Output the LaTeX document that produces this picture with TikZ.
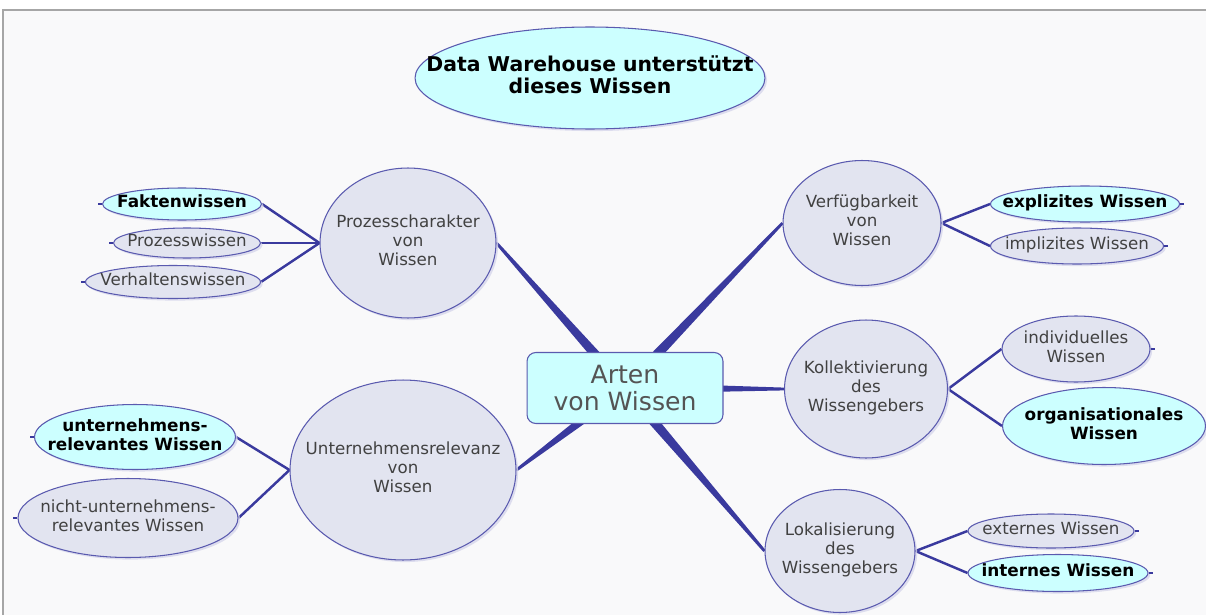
\documentclass[tikz,border=0pt]{standalone}
\usepackage{fontspec}
\setmainfont{DejaVu Sans}
\usepackage{xcolor}
\usepackage{tikz}
\usetikzlibrary{shapes.geometric,calc,backgrounds,shadows}
\definecolor{edgeblue}{RGB}{58,58,158}
\definecolor{rimblue}{RGB}{90,90,175}
\definecolor{topic}{RGB}{226,228,240}
\definecolor{hilite}{RGB}{204,255,255}
\definecolor{txtgray}{RGB}{65,65,65}
\definecolor{paper}{RGB}{249,249,250}

% zero-width centred text, so the ellipse keeps its own size
\newcommand{\zw}[1]{\makebox[0pt]{\begin{tabular}{@{}c@{}}#1\end{tabular}}}
% tapered branch from the centre
\newcommand{\taper}[2]{\fill[edgeblue] ($(#1)!3.2pt!90:(#2)$) -- ($(#2)!0.8pt!-90:(#1)$) -- ($(#2)!0.8pt!90:(#1)$) -- ($(#1)!3.2pt!-90:(#2)$) -- cycle;}

\begin{document}
\begin{tikzpicture}[
    x=0.02cm, y=-0.02cm,
    base/.style={ellipse, draw=rimblue, line width=0.6pt, inner sep=0pt,
        drop shadow={shadow xshift=1.2pt, shadow yshift=-1.2pt, fill=rimblue!25, opacity=0.8}},
    topicnode/.style={base, fill=topic, text=txtgray, font=\fontsize{9.5}{10.8}\selectfont},
    leaf/.style={base, fill=topic, text=txtgray, font=\fontsize{9.5}{11}\selectfont},
    keyleaf/.style={base, fill=hilite, text=black, font=\fontsize{9.6}{11.2}\selectfont\bfseries},
    corebox/.style={rectangle, draw=rimblue, line width=0.6pt, fill=hilite, rounded corners=5pt,
        minimum width=3.92cm, minimum height=1.42cm, inner sep=0pt, align=center,
        text=txtgray!90, font=\fontsize{14.3}{15.2}\selectfont},
    twig/.style={draw=edgeblue, line width=1.4pt},
    stub/.style={draw=edgeblue, line width=0.8pt}
]
    \useasboundingbox (0,0) rectangle (1206,615);

    % Centre
    \node[corebox] (core) at (625,388) {Arten\\von Wissen};

    % Title
    \node[base, fill=hilite, minimum width=7.0cm, minimum height=2.04cm,
        font=\fontsize{11.6}{12.8}\selectfont\bfseries] (title) at (590,78)
        {\zw{Data Warehouse unterstützt\\dieses Wissen}};

    % Topics
    \node[topicnode, minimum width=3.52cm, minimum height=3.0cm] (prozess) at (408,243) {\zw{Prozesscharakter\\von\\Wissen}};
    \node[topicnode, minimum width=4.52cm, minimum height=3.6cm] (relevanz) at (403,470) {\zw{Unternehmensrelevanz\\von\\Wissen}};
    \node[topicnode, minimum width=3.16cm, minimum height=2.5cm] (verfueg) at (862,223) {\zw{Verfügbarkeit\\von\\Wissen}};
    \node[topicnode, minimum width=3.26cm, minimum height=2.76cm] (kollekt) at (866,389) {\zw{Kollektivierung\\des\\Wissengebers}};
    \node[topicnode, minimum width=3.0cm, minimum height=2.46cm] (lokal) at (840,551) {\zw{Lokalisierung\\des\\Wissengebers}};

    % Leaves, left
    \node[keyleaf, minimum width=3.18cm, minimum height=0.64cm] (fakten) at (182,204) {\zw{Faktenwissen}};
    \node[leaf, minimum width=2.94cm, minimum height=0.6cm] (prozw) at (187,243) {\zw{Prozesswissen}};
    \node[leaf, minimum width=3.5cm, minimum height=0.66cm] (verhalt) at (173,282) {\zw{Verhaltenswissen}};
    \node[keyleaf, minimum width=4.02cm, minimum height=1.3cm] (urel) at (135,437) {\zw{unternehmens-\\relevantes Wissen}};
    \node[leaf, minimum width=4.4cm, minimum height=1.58cm] (nurel) at (128,518) {\zw{nicht-unternehmens-\\relevantes Wissen}};

    % Leaves, right
    \node[keyleaf, minimum width=3.78cm, minimum height=0.72cm] (expl) at (1085,204) {\zw{explizites Wissen}};
    \node[leaf, minimum width=3.46cm, minimum height=0.72cm] (impl) at (1077,246) {\zw{implizites Wissen}};
    \node[leaf, minimum width=2.96cm, minimum height=1.32cm] (indiv) at (1076,349) {\zw{individuelles\\Wissen}};
    \node[keyleaf, minimum width=4.06cm, minimum height=1.54cm] (organ) at (1104,426) {\zw{organisationales\\Wissen}};
    \node[leaf, minimum width=3.32cm, minimum height=0.68cm] (extern) at (1051,531) {\zw{externes Wissen}};
    \node[keyleaf, minimum width=3.6cm, minimum height=0.74cm] (intern) at (1058,573) {\zw{internes Wissen}};

    \begin{scope}[on background layer]
        \fill[paper] (3,10) rectangle (1206,615);
        \draw[gray!70, line width=0.8pt] (3,615) -- (3,10) -- (1206,10);
        % Main branches
        \taper{core.center}{prozess.east}
        \taper{core.center}{relevanz.east}
        \taper{core.center}{verfueg.west}
        \taper{core.center}{kollekt.west}
        \taper{core.center}{lokal.west}
        % Twigs
        \foreach \l in {fakten,prozw,verhalt}
            \draw[twig] (prozess.west) -- (\l.east);
        \foreach \l in {urel,nurel}
            \draw[twig] (relevanz.west) -- (\l.east);
        \foreach \l in {expl,impl}
            \draw[twig] (verfueg.east) -- (\l.west);
        \foreach \l in {indiv,organ}
            \draw[twig] (kollekt.east) -- (\l.west);
        \foreach \l in {extern,intern}
            \draw[twig] (lokal.east) -- (\l.west);
    \end{scope}

    % Collapse stubs
    \foreach \l in {fakten,prozw,verhalt,urel,nurel}
        \draw[stub] (\l.west) -- ++(-4,0);
    \foreach \l in {expl,impl,indiv,organ,extern,intern}
        \draw[stub] (\l.east) -- ++(4,0);

\end{tikzpicture}
\end{document}
